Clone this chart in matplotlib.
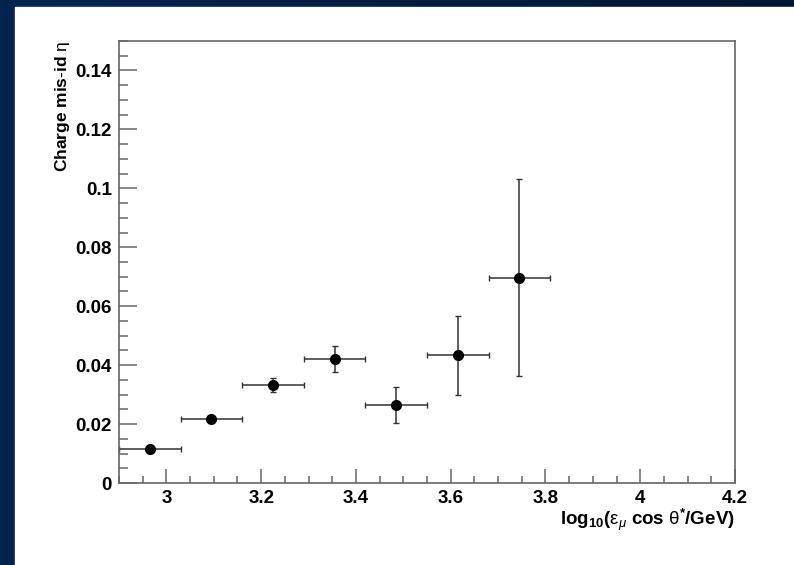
import numpy as np
import matplotlib.pyplot as plt
from matplotlib.ticker import MultipleLocator
from matplotlib.colors import LinearSegmentedColormap

plt.rcParams['font.family'] = ['Liberation Sans', 'DejaVu Sans']
plt.rcParams['mathtext.fontset'] = 'custom'
plt.rcParams['mathtext.rm'] = 'Liberation Sans'
plt.rcParams['mathtext.bf'] = 'Liberation Sans:bold'
plt.rcParams['mathtext.it'] = 'Liberation Sans:italic'

# bin centres in log10(E cos theta*/GeV), half bin width 0.065
x_centres = [2.965, 3.095, 3.225, 3.355, 3.485, 3.615, 3.745]
x_halfwidth = [0.065, 0.065, 0.065, 0.065, 0.065, 0.065, 0.065]
misid = [0.0114, 0.0217, 0.0332, 0.0421, 0.0265, 0.0433, 0.0697]
misid_err = [0.0009, 0.0010, 0.0024, 0.0045, 0.0061, 0.0135, 0.0333]

fig = plt.figure(figsize=(7.94, 5.65), dpi=100)

# navy frame with a slight horizontal gradient
bg = fig.add_axes([0, 0, 1, 1])
grad = np.linspace(0, 1, 256).reshape(1, -1)
navy = LinearSegmentedColormap.from_list('navy', ['#03254f', '#011630'])
bg.imshow(grad, aspect='auto', cmap=navy, extent=[0, 1, 0, 1])
bg.add_patch(plt.Rectangle((15 / 794, 0), 1, 1 - 7 / 565, color='white'))
bg.set_xlim(0, 1)
bg.set_ylim(0, 1)
bg.axis('off')

ax = fig.add_axes([119 / 794, 1 - 483 / 565, 616 / 794, 442 / 565])
ax.errorbar(x_centres, misid, xerr=x_halfwidth, yerr=misid_err,
            fmt='o', color='black', ecolor='#333333', elinewidth=1.1,
            markersize=7, capsize=2, capthick=1.0)

ax.set_xlim(2.9, 4.2)
ax.set_ylim(0, 0.15)
ax.xaxis.set_minor_locator(MultipleLocator(0.05))
ax.yaxis.set_minor_locator(MultipleLocator(0.005))
ax.set_xticks([3.0, 3.2, 3.4, 3.6, 3.8, 4.0, 4.2])
ax.set_xticklabels(['3', '3.2', '3.4', '3.6', '3.8', '4', '4.2'])
ax.set_yticks([0, 0.02, 0.04, 0.06, 0.08, 0.1, 0.12, 0.14])
ax.set_yticklabels(['0', '0.02', '0.04', '0.06', '0.08', '0.1', '0.12', '0.14'])

for s in ax.spines.values():
    s.set_color('#666666')
    s.set_linewidth(1.2)
ax.tick_params(axis='both', which='both', direction='in', color='#666666',
               top=False, right=False, width=1.1)
ax.tick_params(axis='y', which='major', length=13, pad=5)
ax.tick_params(axis='y', which='minor', length=6.5)
ax.tick_params(axis='x', which='major', length=10, pad=5)
ax.tick_params(axis='x', which='minor', length=5)
for lab in ax.get_xticklabels() + ax.get_yticklabels():
    lab.set_fontsize(13.5)
    lab.set_fontweight('bold')

fig.text(62 / 794, 1 - 41 / 565, r'$\mathbf{Charge\ mis\text{-}id}\ \mathrm{\eta}$',
         rotation=90, ha='center', va='top', fontsize=12.5)
fig.text(735 / 794, 1 - 520 / 565,
         r'$\mathbf{log_{10}(}\mathrm{\epsilon}_{\mu}\ \mathbf{cos}\ \mathrm{\theta}\mathbf{^{*}/GeV)}$',
         ha='right', va='center', fontsize=13.5)

fig.savefig('out.png', dpi=100)
